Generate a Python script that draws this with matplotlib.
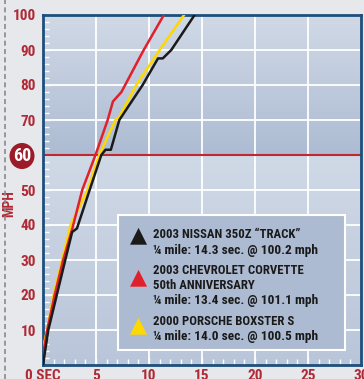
import numpy as np
import matplotlib.pyplot as plt
from matplotlib.colors import to_rgb
from matplotlib.patches import Circle, Rectangle
from matplotlib.lines import Line2D

# speed (mph) vs time (sec)
nissan_t = [0, 0.5, 1.3, 2.1, 2.75, 3.2, 4.4, 5.5, 5.9, 6.4, 7.2, 9.4, 10.85, 11.3, 12.1, 14.3]
nissan_v = [0, 10, 20, 30, 38, 39, 50, 60, 61.5, 61.5, 70, 80, 87.6, 87.6, 90, 100]
vette_t = [0, 0.4, 1.1, 1.9, 2.75, 3.7, 4.95, 6.1, 6.6, 7.4, 9.5, 11.4]
vette_v = [3, 10, 20, 30, 38.8, 50, 60, 70, 75.3, 78, 90, 100]
porsche_t = [0, 0.4, 1.0, 1.8, 2.6, 4.2, 5.3, 6.9, 7.1, 8.8, 11.0, 13.3]
porsche_v = [5, 10, 20, 30, 40, 50, 60, 70.4, 70.4, 80, 90, 100]

x_labels = ["0 SEC", "5", "10", "15", "20", "25", "30"]
y_labels = ["10", "20", "30", "40", "50", "", "70", "80", "90", "100"]

legend_colors = ["#1a1a1a", "#e0202a", "#ffd800"]
legend_lines = [
    ["2003 NISSAN 350Z \u201cTRACK\u201d", "\u00bc mile: 14.3 sec. @ 100.2 mph"],
    ["2003 CHEVROLET CORVETTE", "50th ANNIVERSARY", "\u00bc mile: 13.4 sec. @ 101.1 mph"],
    ["2000 PORSCHE BOXSTER S", "\u00bc mile: 14.0 sec. @ 100.5 mph"],
]

plt.rcParams['font.family'] = ['Roboto Condensed', 'DejaVu Sans']
red = "#b02a35"
navy = "#1d4f7c"

fig = plt.figure(figsize=(3.64, 3.79), dpi=100, facecolor="#e7e8ec")
ax = fig.add_axes([43/364, 14/379, 318/364, 350/379])
ax.set_xlim(0, 30)
ax.set_ylim(0, 100)

# background: gradient 0->60 and a second one 60->100
rows = []
for v in np.arange(0, 100, 0.5):
    if v < 60:
        f = v / 60
        c0, c1 = np.array(to_rgb("#b9c5d9")), np.array(to_rgb("#d0d9e6"))
    else:
        f = (v - 60) / 40
        c0, c1 = np.array(to_rgb("#adbcd3")), np.array(to_rgb("#d1d9e6"))
    rows.append(c0 + (c1 - c0) * f)
bg = np.array(rows).reshape(-1, 1, 3)
ax.imshow(bg, extent=[0, 30, 0, 100], origin="lower", aspect="auto", zorder=0)

for x in range(5, 30, 5):
    ax.axvline(x, color="white", lw=1.3, zorder=1)
for y in range(10, 100, 10):
    ax.axhline(y, color="white", lw=1.3, zorder=1)
ax.axhline(60, color="#c0282f", lw=1.5, zorder=2)

ax.plot(nissan_t, nissan_v, color="#1a1a1a", lw=1.8, zorder=4)
ax.plot(porsche_t, porsche_v, color="#ffd800", lw=1.8, zorder=3)
ax.plot(vette_t, vette_v, color="#e0202a", lw=1.8, zorder=3)

for s in ax.spines.values():
    s.set_color(navy)
    s.set_linewidth(2)

ax.set_xticks(range(0, 31, 5))
ax.set_xticklabels(x_labels)
ax.set_xticks(range(0, 31), minor=True)
ax.set_yticks(range(10, 101, 10))
ax.set_yticklabels(y_labels)
ax.set_yticks(range(0, 101, 2), minor=True)
ax.tick_params(axis="both", which="both", direction="in", colors="white", width=1,
               labelcolor=red, labelsize=11)
ax.tick_params(axis="both", which="major", length=5)
ax.tick_params(axis="both", which="minor", length=4)
ax.tick_params(axis="x", pad=3)
ax.tick_params(axis="y", pad=5)
for lab in ax.get_xticklabels() + ax.get_yticklabels():
    lab.set_fontweight("bold")

ax.set_ylabel("MPH", color=red, fontsize=10, fontweight="bold")
ax.yaxis.set_label_coords(-0.085, 0.46)

# 60 mph badge
fig.add_artist(Circle((22/364, 1 - 156/379), 12.5/364, transform=fig.transFigure,
                      facecolor="#9b1c28", edgecolor="none"))
fig.text(22/364, 1 - 156/379, "60", color="white", fontsize=13, fontweight="bold",
         ha="center", va="center")

# dashed left border
fig.add_artist(Line2D([5/364, 5/364], [0, 1], color="#8a8a8a", lw=1.2, ls=(0, (3, 2))))

# legend box
bx0, bx1 = 118/364, 345/364
by0, by1 = 1 - 350/379, 1 - 215/379
fig.add_artist(Rectangle((bx0, by0), bx1 - bx0, by1 - by0, transform=fig.transFigure,
                         facecolor="#adbbd2", edgecolor="white", lw=1.5))
arrow_y = [235, 277, 325]
line_y = [[233, 249], [269, 284, 299], [320, 335]]
for c, lines, ay, lys in zip(legend_colors, legend_lines, arrow_y, line_y):
    fig.text(138/364, 1 - ay/379, "\u25b2", color=c, fontsize=16, ha="center", va="center",
             family="DejaVu Sans")
    for i, (txt, ly) in enumerate(zip(lines, lys)):
        last = i == len(lines) - 1
        fig.text(153/364, 1 - ly/379, txt, color="#1a1a1a", fontsize=9.6 if last else 9.2,
                 fontweight="bold", ha="left", va="center_baseline")

fig.savefig("out.png", dpi=100, facecolor=fig.get_facecolor())
